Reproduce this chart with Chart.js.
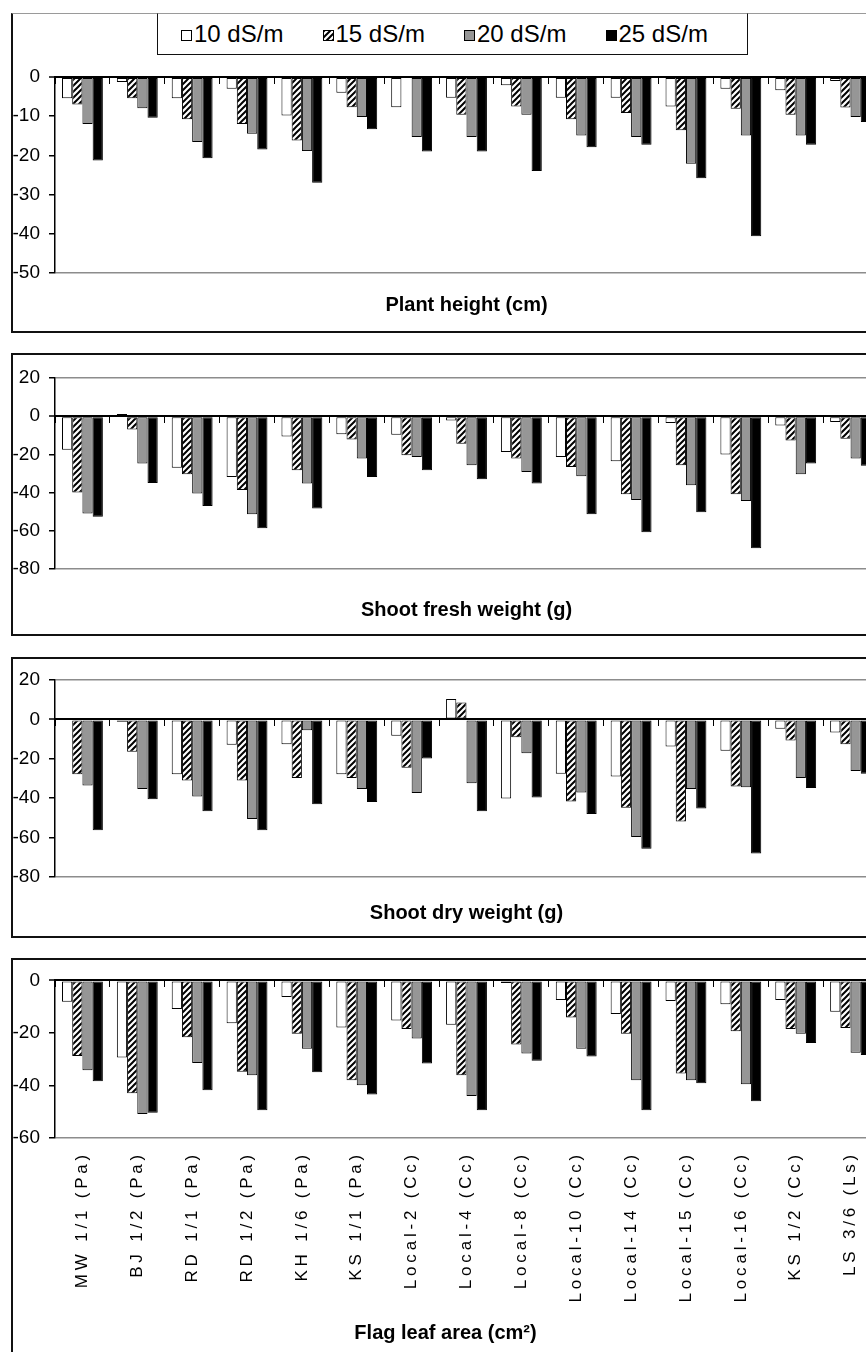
<!DOCTYPE html>
<html>
<head>
<meta charset="utf-8">
<title>Reduction under salinity</title>
<script src="https://cdn.jsdelivr.net/npm/chart.js@4.4.1/dist/chart.umd.min.js"></script>
<style>
  html, body { margin: 0; padding: 0; background: #fff; }
  body { position: relative; width: 866px; height: 1352px; overflow: hidden; font-family: "Liberation Sans", Arial, sans-serif; }
  .panel { position: absolute; left: 11px; width: 900px; border-left: 2px solid #111; border-top: 2px solid #111; border-bottom: 2px solid #111; }
  .panel canvas { display: block; }
  #p1 { top: 13px; border-top: 1px solid #9a9a9a; }
  #p2 { top: 353px; }
  #p3 { top: 657px; }
  #p4 { top: 958px; border-bottom: none; }
  #legend { position: absolute; z-index: 2; left: 157px; top: 13px; width: 591px; height: 42px; box-sizing: border-box; border: 1.5px solid #111; border-top: 1px solid #9a9a9a; padding-left: 23px; display: flex; align-items: center; background: #fff; }
  .item { width: 148px; display: flex; align-items: center; font-size: 24px; color: #000; }
  .swatch { width: 9px; height: 9px; border: 1px solid #000; margin-right: 2px; margin-top: 3px; }
</style>
</head>
<body>
<div id="legend"></div>
<div class="panel" id="p1"><canvas id="c1" width="900" height="317"></canvas></div>
<div class="panel" id="p2"><canvas id="c2" width="900" height="279"></canvas></div>
<div class="panel" id="p3"><canvas id="c3" width="900" height="277"></canvas></div>
<div class="panel" id="p4"><canvas id="c4" width="900" height="400"></canvas></div>
<script>
"use strict";

const categories = ["MW 1/1 (Pa)", "BJ 1/2 (Pa)", "RD 1/1 (Pa)", "RD 1/2 (Pa)", "KH 1/6 (Pa)", "KS 1/1 (Pa)", "Local-2 (Cc)", "Local-4 (Cc)", "Local-8 (Cc)", "Local-10 (Cc)", "Local-14 (Cc)", "Local-15 (Cc)", "Local-16 (Cc)", "KS 1/2 (Cc)", "LS 3/6 (Ls)"];
const seriesLabels = ["10 dS/m", "15 dS/m", "20 dS/m", "25 dS/m"];

// plant height (cm)
const height10 = [-5.4, -1.3, -5.4, -3, -9.8, -4, -7.7, -5.3, -2.1, -5.3, -5.3, -7.5, -3, -3.4, -1];
const height15 = [-7, -5.4, -10.8, -12, -16.2, -7.7, 0, -9.6, -7.5, -10.8, -9.2, -13.6, -8.1, -9.6, -7.8];
const height20 = [-12, -8, -16.6, -14.5, -18.9, -10.2, -15.3, -15.3, -9.6, -14.9, -15.3, -22.1, -14.9, -14.9, -10.2];
const height25 = [-21.3, -10.4, -20.7, -18.5, -27, -13.3, -19, -19, -24, -17.9, -17.3, -25.8, -40.6, -17.3, -11.5];

// shoot fresh weight (g)
const fresh10 = [-17.5, 1.2, -27, -31.8, -10.6, -9.5, -9.7, -2.3, -18.8, -21.4, -23.6, -3.5, -20.1, -4.9, -3.1];
const fresh15 = [-40, -7, -30.4, -38.7, -28.3, -12.2, -20.5, -14.4, -22.2, -26.6, -40.8, -25.7, -40.8, -12.7, -11.8];
const fresh20 = [-51, -24.8, -40.5, -51.4, -35.2, -22.2, -21.4, -25.7, -29.2, -31.4, -43.9, -36.1, -44.4, -30.4, -22.2];
const fresh25 = [-52.6, -35, -47, -58.7, -48.3, -31.8, -28.3, -33, -35.2, -51.4, -60.8, -50.3, -69.1, -24.8, -26];

// shoot dry weight (g)
const dry10 = [0, -1.2, -27.9, -12.9, -12.6, -27.9, -8.3, 10.3, -40.2, -27.6, -29, -13.8, -15.9, -4.7, -6.6];
const dry15 = [-27.9, -16.4, -31, -31, -29.8, -29.7, -24.5, 8.6, -9.1, -41.7, -44.8, -51.8, -34, -10.7, -12.6];
const dry20 = [-33.6, -35.3, -39.1, -50.6, -5.5, -35.3, -37.4, -32.4, -17.2, -37.1, -59.7, -35.3, -34.5, -29.8, -26.2];
const dry25 = [-56.3, -40.5, -46.6, -56.3, -43.1, -41.9, -19.8, -46.6, -39.7, -48, -65.7, -45.2, -68.1, -34.8, -27.6];

// flag leaf area (cm2)
const leaf10 = [-8.1, -29.4, -10.9, -16.3, -6.3, -17.9, -15.3, -16.9, -1, -7.5, -12.8, -7.8, -9.1, -7.5, -11.9];
const leaf15 = [-28.8, -43, -21.6, -34.8, -20.3, -38, -18.5, -36.1, -24.4, -14.1, -20.3, -35.4, -19.4, -18.5, -18.1];
const leaf20 = [-34.2, -50.9, -31.4, -36.1, -26, -39.9, -22.1, -44, -27.8, -26, -38, -38, -39.5, -20.3, -27.5];
const leaf25 = [-38.4, -50.4, -41.8, -49.4, -35, -43.4, -31.6, -49.4, -30.6, -29, -49.4, -39.2, -46, -23.8, -28.4];

// y axis: [min, max, step]
const heightAxis = [-50, 0, 10];
const freshAxis = [-80, 20, 20];
const dryAxis = [-80, 20, 20];
const leafAxis = [-60, 0, 20];

const fontFamily = "'Liberation Sans', Arial, sans-serif";

// small tile for the 15 dS/m hatching
const hatchTile = document.createElement("canvas");
hatchTile.width = 6;
hatchTile.height = 6;
let tctx = hatchTile.getContext("2d");
tctx.fillStyle = "#fff";
tctx.fillRect(0, 0, 6, 6);
tctx.strokeStyle = "#000";
tctx.lineWidth = 2;
tctx.beginPath();
tctx.moveTo(0, 6); tctx.lineTo(6, 0);
tctx.moveTo(-3, 3); tctx.lineTo(3, -3);
tctx.moveTo(3, 9); tctx.lineTo(9, 3);
tctx.stroke();

// the cultivar names are printed letter-spaced in the original
const spacedLabels = {
  id: "spacedLabels",
  afterLayout(chart) {
    const scale = chart.scales.x2;
    if (!scale || scale._spaced) return;
    const draw = scale.drawLabels;
    scale.drawLabels = function (area) {
      const old = this.ctx.letterSpacing;
      this.ctx.letterSpacing = "3.8px";
      draw.call(this, area);
      this.ctx.letterSpacing = old;
    };
    scale._spaced = true;
  },
};

function buildPanel(id, title, series, axis, lay) {
  const canvas = document.getElementById(id);
  const hatch = canvas.getContext("2d").createPattern(hatchTile, "repeat");
  const fills = ["#ffffff", hatch, "#969696", "#000000"];
  const yMin = axis[0], yMax = axis[1], yStep = axis[2];

  const datasets = series.map((values, i) => ({
    label: seriesLabels[i],
    data: values,
    backgroundColor: fills[i],
    borderColor: "#000",
    borderWidth: 1,
    borderSkipped: false,
    barPercentage: 1,
    categoryPercentage: 0.745,
  }));

  const titleFont = { family: fontFamily, size: 20, weight: "bold" };

  const x2 = {
    type: "category",
    labels: categories,
    position: "bottom",
    offset: true,
    grid: { display: false, drawTicks: false },
    border: { display: false },
    afterFit: (s) => { s.height = lay.bottomBand; },
  };
  if (lay.showNames) {
    x2.ticks = { autoSkip: false, minRotation: 90, maxRotation: 90, padding: 13, color: "#000", font: { family: fontFamily, size: 17 } };
  } else {
    // panel title sits under the plot, centred on it
    x2.ticks = { display: false };
    x2.title = { display: true, text: title, color: "#000", font: titleFont, padding: { top: 0, bottom: 0 } };
  }

  return new Chart(canvas, {
    type: "bar",
    data: { labels: categories, datasets: datasets },
    options: {
      responsive: false,
      animation: false,
      layout: { padding: { top: lay.top, bottom: lay.bottom, left: 0, right: 35 } },
      plugins: {
        legend: { display: false },
        tooltip: { enabled: false },
        title: {
          display: !!lay.showNames,
          text: title,
          position: "bottom",
          color: "#000",
          font: titleFont,
          padding: { top: 0, bottom: 0 },
        },
      },
      scales: {
        x: {
          type: "category",
          position: { y: 0 },
          offset: true,
          grid: { offset: true, drawOnChartArea: false, tickLength: 6, tickColor: "#000", tickWidth: 1 },
          border: { display: true, color: "#000", width: 2 },
          ticks: { display: false },
        },
        x2: x2,
        y: {
          min: yMin,
          max: yMax,
          ticks: { stepSize: yStep, color: "#000", padding: 9, font: { family: fontFamily, size: 19 } },
          grid: {
            color: (c) => (c.tick.value === 0 ? "#000" : c.tick.value === yMin || c.tick.value === yMax ? "#8c8c8c" : "rgba(0,0,0,0)"),
            lineWidth: (c) => (c.tick.value === 0 ? 2 : 1.5),
            tickLength: 6,
            tickColor: "#000",
            tickWidth: 1.5,
          },
          border: { color: "#000", width: 1.5 },
          afterFit: (s) => { s.width = 42; },
        },
      },
    },
    plugins: lay.showNames ? [spacedLabels] : [],
  });
}

let heightChart = buildPanel("c1", "Plant height (cm)", [height10, height15, height20, height25], heightAxis, { top: 63, bottom: 14, bottomBand: 44 });
buildPanel("c2", "Shoot fresh weight (g)", [fresh10, fresh15, fresh20, fresh25], freshAxis, { top: 23, bottom: 12, bottomBand: 53 });
buildPanel("c3", "Shoot dry weight (g)", [dry10, dry15, dry20, dry25], dryAxis, { top: 21, bottom: 11, bottomBand: 48 });
buildPanel("c4", "Flag leaf area (cm\u00B2)", [leaf10, leaf15, leaf20, leaf25], leafAxis, { top: 20, bottom: 15, bottomBand: 183, showNames: true });

// html legend made from the first chart's datasets
let legendBox = document.getElementById("legend");
heightChart.data.datasets.forEach((ds) => {
  let item = document.createElement("div");
  item.className = "item";
  let sw = document.createElement("span");
  sw.className = "swatch";
  if (typeof ds.backgroundColor === "string") {
    sw.style.background = ds.backgroundColor;
  } else {
    sw.style.backgroundImage = `url(${hatchTile.toDataURL()})`;
  }
  let txt = document.createElement("span");
  txt.textContent = ds.label;
  item.appendChild(sw);
  item.appendChild(txt);
  legendBox.appendChild(item);
});
</script>
</body>
</html>
